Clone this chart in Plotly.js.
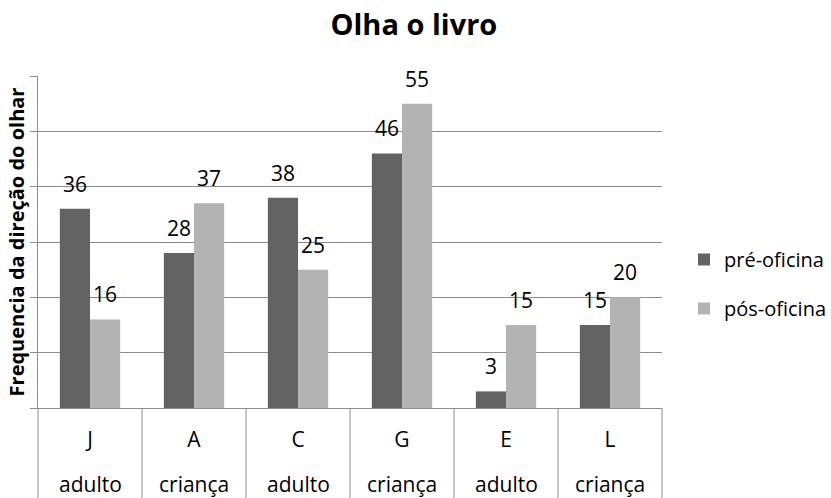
<!DOCTYPE html>
<html>
<head>
<meta charset="utf-8">
<script src="https://cdn.plot.ly/plotly-3.0.1.min.js"></script>
<style>html,body{margin:0;padding:0;background:#fff;}#chart{width:831px;height:498px;}</style>
</head>
<body>
<div id="chart"></div>
<script>
var categories = ["J", "A", "C", "G", "E", "L"];
var groups = ["adulto", "criança", "adulto", "criança", "adulto", "criança"];
var seriesNames = ["pré-oficina", "pós-oficina"];
var preOficina = [36, 28, 38, 46, 3, 15];
var posOficina = [16, 37, 25, 55, 15, 20];
var yTicks = [0, 10, 20, 30, 40, 50, 60];

var colors = ["#636363", "#b3b3b3"];
var fontFam = "'Open Sans', 'Noto Sans', sans-serif";
var bargap = 0.42;
var idx = categories.map(function (_, i) { return i; });
var series = [preOficina, posOficina];

var traces = series.map(function (vals, s) {
  return {
    type: "bar",
    name: seriesNames[s],
    x: idx,
    y: vals,
    marker: { color: colors[s], line: { width: 0 } },
    legendgroup: "g" + s,
    hoverinfo: "skip"
  };
});

var annotations = [];
var half = (1 - bargap) / 4;
series.forEach(function (vals, s) {
  vals.forEach(function (v, i) {
    annotations.push({
      x: i + (s === 0 ? -half : half), y: v, xref: "x", yref: "y",
      text: String(v), showarrow: false, xanchor: "center", yanchor: "middle", yshift: 25,
      font: { family: fontFam, size: 21, color: "#000" }
    });
  });
});
var N = categories.length;
groups.forEach(function (g, i) {
  annotations.push({
    x: i, y: -0.23, xref: "x", yref: "paper",
    text: g, showarrow: false, xanchor: "center", yanchor: "middle", borderpad: 0,
    font: { family: fontFam, size: 21, color: "#000" }
  });
});

var shapes = [];
for (var i = 0; i <= N; i++) {
  shapes.push({
    type: "line", xref: "paper", yref: "paper",
    x0: i / N, x1: i / N, y0: 0, y1: -0.275,
    line: { color: "#8c8c8c", width: 1 }
  });
}

var layout = {
  width: 831, height: 498,
  margin: { l: 38, r: 169, t: 76, b: 90 },
  paper_bgcolor: "#fff", plot_bgcolor: "#fff",
  barmode: "group", bargap: bargap, bargroupgap: 0,
  title: {
    text: "<b>Olha o livro</b>",
    font: { family: fontFam, size: 29, color: "#000" },
    x: 0.498, xref: "container", xanchor: "center",
    y: 0.95, yref: "container", yanchor: "middle"
  },
  xaxis: {
    range: [-0.5, N - 0.5],
    tickmode: "array", tickvals: idx, ticktext: categories,
    ticks: "", showgrid: false, zeroline: false,
    showline: true, linecolor: "#8c8c8c", linewidth: 1,
    ticklabelstandoff: 13,
    tickfont: { family: fontFam, size: 21, color: "#000" },
    automargin: false, fixedrange: true
  },
  yaxis: {
    range: [0, 60], tickmode: "array", tickvals: yTicks,
    showticklabels: false,
    ticks: "outside", ticklen: 7, tickcolor: "#8c8c8c", tickwidth: 1,
    showgrid: true, gridcolor: "#8c8c8c", gridwidth: 1,
    zeroline: false, showline: true, linecolor: "#8c8c8c", linewidth: 1,
    title: {
      text: "<b>Frequencia da direção do olhar</b>",
      font: { family: fontFam, size: 20, color: "#000" },
      standoff: 0
    },
    automargin: false, fixedrange: true
  },
  showlegend: true,
  legend: {
    xref: "container", yref: "container",
    x: 684 / 831, xanchor: "left", y: 1 - 284 / 498, yanchor: "middle",
    font: { family: fontFam, size: 20, color: "#000" },
    traceorder: "grouped", tracegroupgap: 20,
    bgcolor: "rgba(0,0,0,0)", borderwidth: 0
  },
  annotations: annotations,
  shapes: shapes
};

Plotly.newPlot("chart", traces, layout, { displayModeBar: false, staticPlot: true });
</script>
</body>
</html>
